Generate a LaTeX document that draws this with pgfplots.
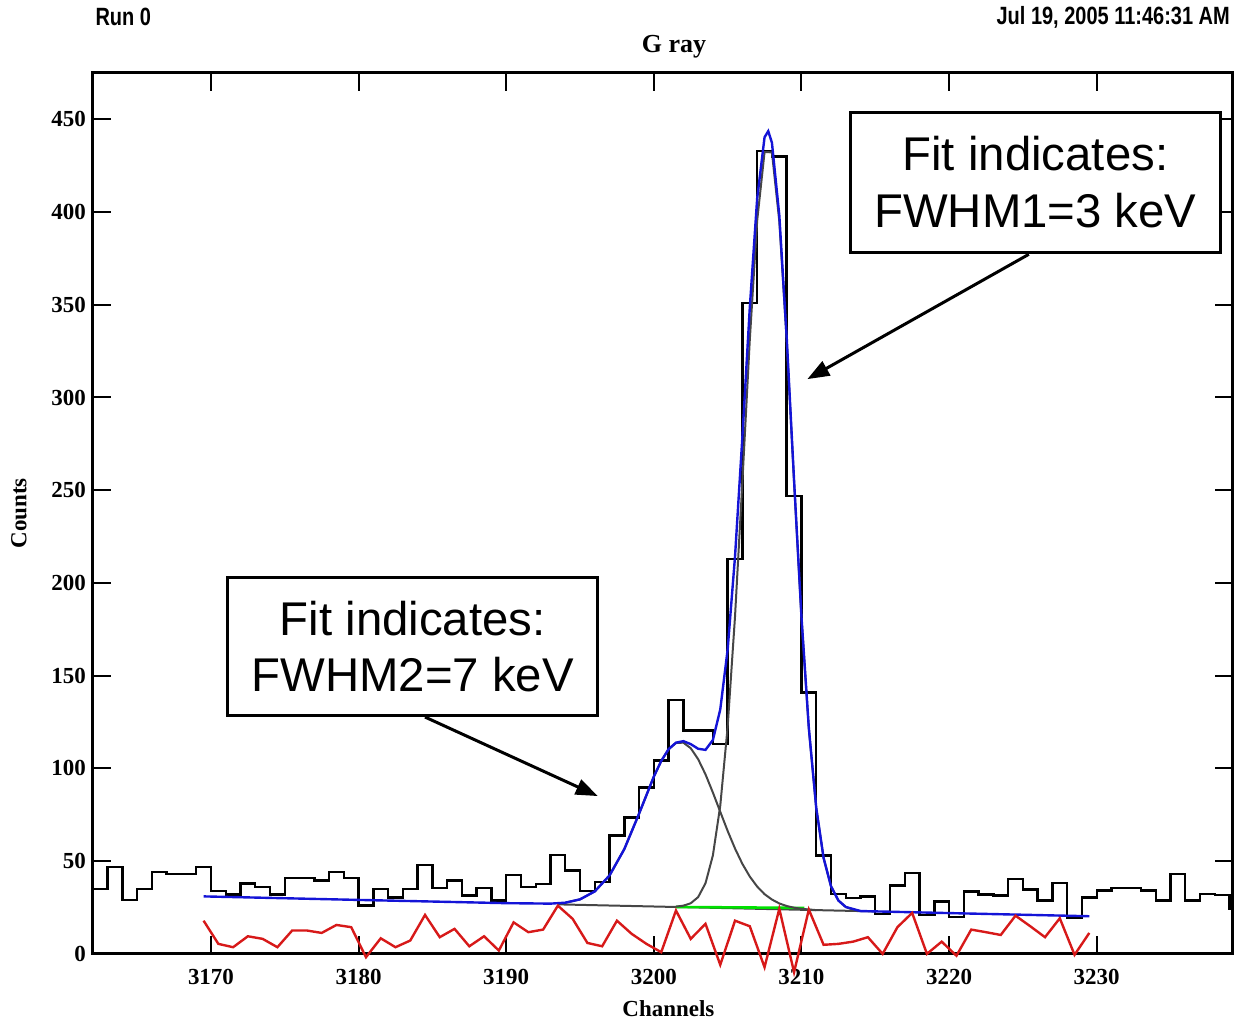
\documentclass[border=0pt]{standalone}
\usepackage{fontspec}
\setmainfont{Liberation Serif}
\newfontfamily\arialfont{Liberation Sans}
\newfontfamily\narrowfont[FakeStretch=0.8]{Liberation Sans}
\usepackage{pgfplots}
\pgfplotsset{compat=1.18}
\usetikzlibrary{arrows.meta}
\definecolor{fitblue}{RGB}{20,20,215}
\definecolor{resred}{RGB}{215,25,25}
\definecolor{compgray}{RGB}{70,70,70}
\definecolor{basegreen}{RGB}{0,225,0}
\begin{document}
\begin{tikzpicture}
\begin{axis}[
  at={(0,0)}, anchor=south west,
  scale only axis, width=570.5pt, height=441pt,
  xmin=3162, xmax=3239.2, ymin=0, ymax=475,
  clip=false,
  axis line style={line width=1.5pt},
  tick align=inside,
  major tick length=9pt,
  tick style={line width=1pt, black},
  xtick={3170,3180,...,3230},
  ytick={0,50,...,450},
  minor tick num=0,
  scaled ticks=false,
  /pgf/number format/1000 sep={},
  /pgf/number format/assume math mode=true,
  ticklabel style={font=\bfseries\fontsize{11.5}{12}\selectfont},
  xticklabel style={yshift=-4pt},
  xlabel={Channels}, ylabel={Counts},
  label style={font=\bfseries\fontsize{11.5}{12}\selectfont},
  xlabel style={at={(axis description cs:0.505,-0.062)}, anchor=center},
  ylabel style={at={(axis description cs:-0.065,0.5)}, anchor=center},
  title={G ray},
  title style={at={(axis description cs:0.51,1.016)}, anchor=center, font=\bfseries\fontsize{13}{14}\selectfont},
]
% histogram
\addplot[const plot, black, line width=1.2pt] coordinates {
(3162,35) (3163,47) (3164,29) (3165,35) (3166,44) (3167,43) (3168,43) (3169,47)
(3170,34) (3171,32) (3172,38) (3173,36) (3174,32) (3175,41) (3176,41) (3177,39.5)
(3178,44) (3179,41) (3180,26) (3181,35) (3182,30.5) (3183,35) (3184,48) (3185,35.4)
(3186,39.5) (3187,31.4) (3188,35.4) (3189,28.7) (3190,42.6) (3191,36) (3192,37.7)
(3193,53.4) (3194,44.9) (3195,34) (3196,38.6) (3197,63.8) (3198,73.6) (3199,89.8)
(3200,104.2) (3201,137) (3202,120.4) (3203,120.4) (3204,113.2) (3205,213) (3206,351)
(3207,433) (3208,430) (3209,247) (3210,141) (3211,53) (3212,32.3) (3213,30) (3214,31)
(3215,21.6) (3216,36.8) (3217,43.6) (3218,21) (3219,28.2) (3220,19.8) (3221,33.6)
(3222,32) (3223,31.4) (3224,40.4) (3225,34.7) (3226,28.7) (3227,38.3) (3228,19.4)
(3229,30.5) (3230,34.1) (3231,35.4) (3232,35.4) (3233,34.1) (3234,28.7) (3235,43.1)
(3236,28.7) (3237,32.3) (3238,31.8) (3239,24.3) (3239.2,24.3)};
% gray baseline
\addplot[compgray, line width=1pt] coordinates {(3193.5,26.7) (3215,22.9)};
% green
\addplot[basegreen, line width=1.3pt] coordinates {(3201.5,25.3) (3210.2,24.8)};
% gray component 2
\addplot[compgray, line width=1pt] coordinates {
(3194,27.6) (3195,29.4) (3196,33.7) (3197,42.3) (3198,56.5) (3199,75.6) (3200,95.6)
(3200.5,104) (3201,110.3) (3201.5,113.7) (3202,113.9) (3202.5,110.9) (3203,105)
(3203.5,96.8) (3204,87) (3204.5,76.6) (3205,66.3) (3205.5,56.8) (3206,48.5)
(3206.5,41.7) (3207,36.3) (3207.5,32.2) (3208,29.3) (3208.5,27.2) (3209,25.8)
(3209.5,24.9) (3210,24.3) (3211,23.6)};
% gray component 1
\addplot[compgray, line width=1pt] coordinates {
(3201.5,25.5) (3202,26.0) (3202.5,27.3) (3203,30.6) (3203.5,38.1) (3204,53.1)
(3204.5,79.9) (3205,122.4) (3205.5,182) (3206,254.8) (3206.5,331) (3207,395.3)
(3207.5,432.3) (3208,432.2) (3208.5,395) (3209,330.6) (3209.5,254.2) (3210,181.2)
(3210.5,121.4) (3211,78.7) (3211.5,51.7) (3212,36.5) (3212.5,28.8) (3213,25.3)
(3213.5,23.8) (3214,23.1)};
% blue total fit
\addplot[fitblue, line width=1.2pt] coordinates {
(3169.5,31.0) (3180,29.1) (3190,27.35) (3193,27.1) (3194,27.6) (3195,29.4) (3196,33.7)
(3197,42.3) (3198,56.5) (3199,75.6) (3200,95.6) (3200.5,104.0) (3201,110.4)
(3201.5,113.9) (3202,114.7) (3202.5,113.1) (3203,110.6) (3203.5,110.0) (3204,115.3)
(3204.5,131.8) (3205,164.1) (3205.5,214.3) (3206,278.9) (3206.5,348.4) (3207,407.3)
(3207.5,440.3) (3207.75,443.6) (3208,437.4) (3208.5,398.2) (3209,332.5) (3209.5,255.3)
(3210,181.8) (3210.5,121.8) (3211,78.8) (3211.5,51.7) (3212,36.5) (3212.5,28.8)
(3213,25.3) (3214,23.1) (3220,22.0) (3229.5,20.3)};
% red residuals
\addplot[resred, line width=1.2pt] coordinates {
(3169.5,17.9) (3170.5,5.4) (3171.5,3.6) (3172.5,9.5) (3173.5,8.1) (3174.5,3.6)
(3175.5,12.6) (3176.5,12.6) (3177.5,11.3) (3178.5,15.6) (3179.5,14.4) (3180.5,-1.8)
(3181.5,8.4) (3182.5,3.6) (3183.5,7.2) (3184.5,21) (3185.5,9) (3186.5,13.5)
(3187.5,4.1) (3188.5,9.5) (3189.5,1.8) (3190.5,17) (3191.5,11.7) (3192.5,13.1)
(3193.5,26) (3194.5,18.9) (3195.5,5.9) (3196.5,4.1) (3197.5,17.9) (3198.5,10.8)
(3199.5,5.4) (3200.5,0.9) (3201.5,23.4) (3202.5,8.1) (3203.5,16.2) (3204.5,-5.9)
(3205.5,17.9) (3206.5,14.9) (3207.5,-7.2) (3208.5,24.3) (3209.5,-9.9) (3210.5,23.9)
(3211.5,4.9) (3212.5,5.4) (3213.5,6.6) (3214.5,9) (3215.5,0) (3216.5,14.4)
(3217.5,22.1) (3218.5,0) (3219.5,6.6) (3220.5,-1) (3221.5,13.1) (3222.5,11.7)
(3223.5,10.2) (3224.5,20.6) (3225.5,14.9) (3226.5,9) (3227.5,19.2) (3228.5,-0.5)
(3229.5,11.3)};
% annotations
\draw[line width=1.5pt, -{Triangle[length=11pt,width=8pt]}] (axis cs:3225.4,377.2) -- (axis cs:3210.4,309.9);
\draw[line width=1.5pt, -{Triangle[length=11pt,width=8pt]}] (axis cs:3184.5,127.7) -- (axis cs:3196.2,85.1);
\node[draw=black, line width=1.5pt, fill=white, minimum width=185.5pt, minimum height=70pt, align=center, inner sep=0pt, font=\arialfont\fontsize{23.7}{28.5}\selectfont] at (axis cs:3225.85,416) {Fit indicates:\\FWHM1=3 keV};
\node[draw=black, line width=1.5pt, fill=white, minimum width=185pt, minimum height=69.5pt, align=center, inner sep=0pt, font=\arialfont\fontsize{23.7}{28.5}\selectfont] at (axis cs:3183.67,165.7) {Fit indicates:\\FWHM2=7 keV};
% header
\node[anchor=west, inner sep=0pt, font=\narrowfont\bfseries\fontsize{12.5}{13}\selectfont] at (axis description cs:0.002,1.0635) {Run 0};
\node[anchor=east, inner sep=0pt, font=\narrowfont\bfseries\fontsize{12.5}{13}\selectfont] at (axis description cs:0.998,1.0635) {Jul 19, 2005 11:46:31 AM};
\path (axis description cs:-0.0815,-0.0737) rectangle (axis description cs:1.0,1.0828);
\end{axis}
\end{tikzpicture}
\end{document}
